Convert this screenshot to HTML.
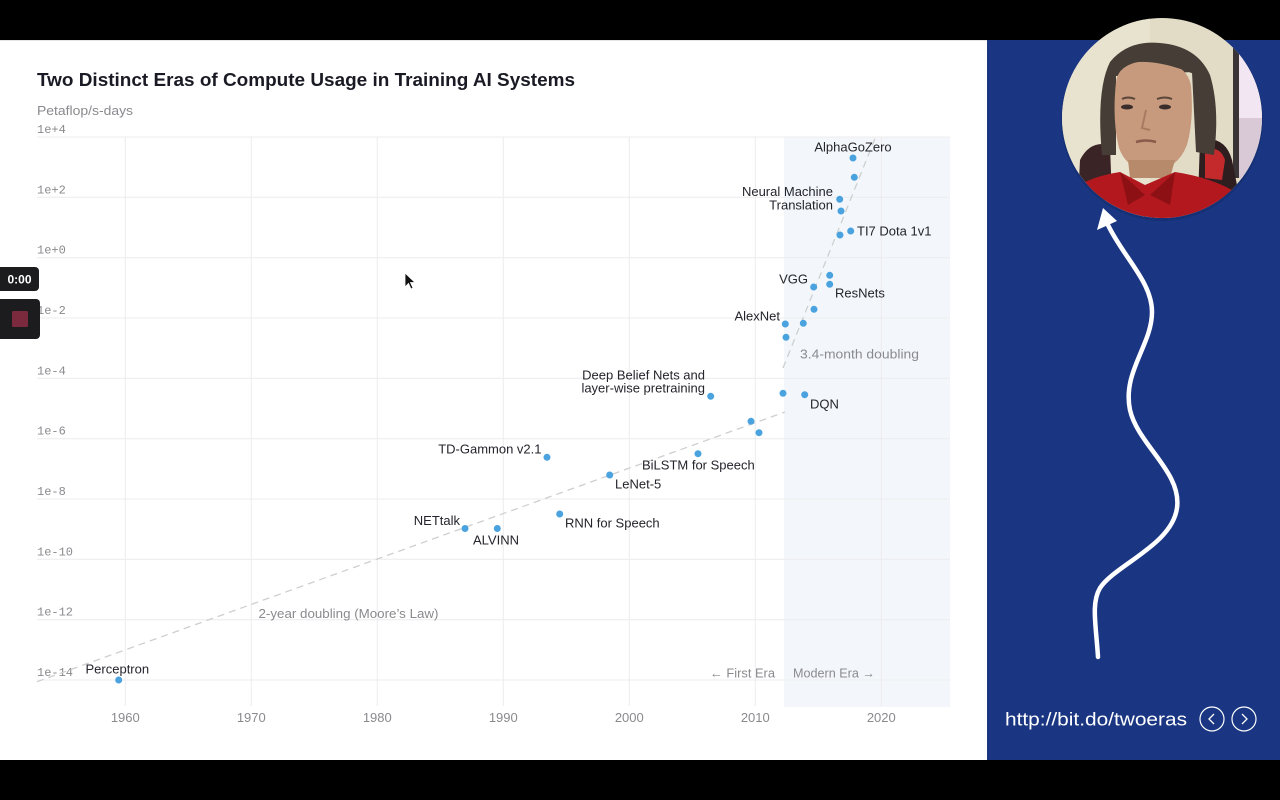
<!DOCTYPE html>
<html><head><meta charset="utf-8"><style>
html,body{margin:0;padding:0;background:#000;}
svg{display:block;}
text{font-family:"Liberation Sans",sans-serif;}
.lbl{font-size:13px;fill:#24242c;}
.gry{font-size:13px;fill:#8a8a8e;}
.yt{font-family:"Liberation Mono",monospace;font-size:12px;fill:#8a8a8e;}
</style></head><body>
<svg width="1280" height="800" viewBox="0 0 1280 800" xmlns="http://www.w3.org/2000/svg">
<defs>
<clipPath id="cc"><circle cx="1162" cy="118" r="100"/></clipPath>
</defs>
<rect x="0" y="0" width="1280" height="800" fill="#000"/>
<rect x="0" y="40" width="987" height="720" fill="#fff"/>
<rect x="0" y="40" width="987" height="1" fill="#e4e4e4"/>
<rect x="987" y="40" width="293" height="720" fill="#1a3682"/>

<!-- modern era shading -->
<rect x="784" y="137" width="166" height="570" fill="#f3f7fb"/>

<!-- grid -->
<g stroke="#ececee" stroke-width="1">
<line x1="37" y1="137" x2="950" y2="137"/>
<line x1="37" y1="197.3" x2="950" y2="197.3"/>
<line x1="37" y1="257.7" x2="950" y2="257.7"/>
<line x1="37" y1="318" x2="950" y2="318"/>
<line x1="37" y1="378.3" x2="950" y2="378.3"/>
<line x1="37" y1="438.7" x2="950" y2="438.7"/>
<line x1="37" y1="499" x2="950" y2="499"/>
<line x1="37" y1="559.3" x2="950" y2="559.3"/>
<line x1="37" y1="619.7" x2="950" y2="619.7"/>
<line x1="37" y1="680" x2="950" y2="680"/>
<line x1="125.3" y1="137" x2="125.3" y2="706"/>
<line x1="251.3" y1="137" x2="251.3" y2="706"/>
<line x1="377.3" y1="137" x2="377.3" y2="706"/>
<line x1="503.3" y1="137" x2="503.3" y2="706"/>
<line x1="629.3" y1="137" x2="629.3" y2="706"/>
<line x1="755.3" y1="137" x2="755.3" y2="706"/>
<line x1="881.3" y1="137" x2="881.3" y2="706"/>
</g>

<!-- title -->
<text x="37" y="86" font-size="18" font-weight="bold" fill="#1a1a24" textLength="538" lengthAdjust="spacingAndGlyphs">Two Distinct Eras of Compute Usage in Training AI Systems</text>
<text x="37" y="115" class="gry" textLength="96" lengthAdjust="spacingAndGlyphs">Petaflop/s-days</text>

<!-- y ticks -->
<text x="37" y="133" class="yt">1e+4</text>
<text x="37" y="193.3" class="yt">1e+2</text>
<text x="37" y="253.7" class="yt">1e+0</text>
<text x="37" y="314" class="yt">1e-2</text>
<text x="37" y="374.3" class="yt">1e-4</text>
<text x="37" y="434.7" class="yt">1e-6</text>
<text x="37" y="495" class="yt">1e-8</text>
<text x="37" y="555.3" class="yt">1e-10</text>
<text x="37" y="615.7" class="yt">1e-12</text>
<text x="37" y="676" class="yt">1e-14</text>

<!-- x ticks -->
<text x="125.3" y="722" class="gry" text-anchor="middle">1960</text>
<text x="251.3" y="722" class="gry" text-anchor="middle">1970</text>
<text x="377.3" y="722" class="gry" text-anchor="middle">1980</text>
<text x="503.3" y="722" class="gry" text-anchor="middle">1990</text>
<text x="629.3" y="722" class="gry" text-anchor="middle">2000</text>
<text x="755.3" y="722" class="gry" text-anchor="middle">2010</text>
<text x="881.3" y="722" class="gry" text-anchor="middle">2020</text>

<!-- trend lines -->
<line x1="37" y1="681.7" x2="785" y2="412" stroke="#cfcfcf" stroke-width="1.3" stroke-dasharray="7 5"/>
<line x1="783" y1="368" x2="876" y2="136" stroke="#cfcfcf" stroke-width="1.3" stroke-dasharray="7 5"/>

<!-- annotations -->
<text x="258.5" y="618" class="gry" textLength="180" lengthAdjust="spacingAndGlyphs">2-year doubling (Moore’s Law)</text>
<text x="800" y="358.5" class="gry" textLength="119" lengthAdjust="spacingAndGlyphs">3.4-month doubling</text>
<text x="710" y="677.5" class="gry" textLength="65" lengthAdjust="spacingAndGlyphs">← First Era</text>
<text x="793" y="677.5" class="gry" textLength="82" lengthAdjust="spacingAndGlyphs">Modern Era →</text>

<!-- labels -->
<text x="853" y="151.5" class="lbl" text-anchor="middle">AlphaGoZero</text>
<text x="833" y="196" class="lbl" text-anchor="end">Neural Machine</text>
<text x="833" y="209.5" class="lbl" text-anchor="end">Translation</text>
<text x="857" y="235.5" class="lbl">TI7 Dota 1v1</text>
<text x="808" y="283.5" class="lbl" text-anchor="end">VGG</text>
<text x="835" y="297.5" class="lbl">ResNets</text>
<text x="780" y="320.5" class="lbl" text-anchor="end">AlexNet</text>
<text x="705" y="379.5" class="lbl" text-anchor="end">Deep Belief Nets and</text>
<text x="705" y="392.5" class="lbl" text-anchor="end">layer-wise pretraining</text>
<text x="810" y="408.5" class="lbl">DQN</text>
<text x="541.5" y="453.5" class="lbl" text-anchor="end">TD-Gammon v2.1</text>
<text x="642" y="469.5" class="lbl">BiLSTM for Speech</text>
<text x="615" y="488.5" class="lbl">LeNet-5</text>
<text x="460" y="525" class="lbl" text-anchor="end">NETtalk</text>
<text x="473" y="544.5" class="lbl">ALVINN</text>
<text x="565" y="527.5" class="lbl">RNN for Speech</text>
<text x="85.5" y="673.5" class="lbl">Perceptron</text>

<!-- points -->
<g fill="#4aa3de">
<circle cx="118.7" cy="680" r="3.5"/>
<circle cx="465" cy="528.5" r="3.5"/>
<circle cx="497.3" cy="528.5" r="3.5"/>
<circle cx="559.7" cy="514" r="3.5"/>
<circle cx="547" cy="457.3" r="3.5"/>
<circle cx="609.7" cy="475" r="3.5"/>
<circle cx="698" cy="453.7" r="3.5"/>
<circle cx="710.7" cy="396.3" r="3.5"/>
<circle cx="751" cy="421.3" r="3.5"/>
<circle cx="759" cy="432.7" r="3.5"/>
<circle cx="783" cy="393.3" r="3.5"/>
<circle cx="804.7" cy="394.7" r="3.5"/>
<circle cx="785.3" cy="324" r="3.5"/>
<circle cx="786" cy="337.3" r="3.5"/>
<circle cx="803.3" cy="323.3" r="3.5"/>
<circle cx="814" cy="309.3" r="3.5"/>
<circle cx="813.7" cy="287" r="3.5"/>
<circle cx="829.7" cy="275.3" r="3.5"/>
<circle cx="829.7" cy="284.3" r="3.5"/>
<circle cx="840" cy="235" r="3.5"/>
<circle cx="850.7" cy="231" r="3.5"/>
<circle cx="839.7" cy="199.3" r="3.5"/>
<circle cx="841" cy="211" r="3.5"/>
<circle cx="854.3" cy="177.3" r="3.5"/>
<circle cx="853" cy="158" r="3.5"/>
</g>

<!-- mouse cursor -->
<path d="M405,273 L405,287 L408.5,283.5 L411,289 L413,288 L410.5,282.5 L415,282.5 Z" fill="#111" stroke="#fff" stroke-width="0.8"/>

<!-- recorder overlay -->
<rect x="-6" y="267" width="45" height="24" rx="4" fill="#1c1c1e"/>
<text x="19.5" y="283.5" font-size="12" font-weight="bold" fill="#fff" text-anchor="middle">0:00</text>
<rect x="-6" y="299" width="46" height="40" rx="4" fill="#1c1c1e"/>
<rect x="12" y="311" width="16" height="16" rx="1.5" fill="#7a2a3c"/>

<!-- webcam circle -->
<circle cx="1162" cy="120" r="101" fill="#102a66" opacity="0.5"/>
<g clip-path="url(#cc)">
<rect x="1060" y="16" width="206" height="206" fill="#e2dcc6"/>
<rect x="1060" y="16" width="90" height="206" fill="#e8e3cf"/>
<rect x="1233" y="48" width="6" height="130" fill="#3a3436"/>
<rect x="1239" y="50" width="26" height="70" fill="#f1e6f1"/>
<rect x="1239" y="118" width="26" height="60" fill="#d9c9d6"/>
<!-- chair -->
<path d="M1080,160 Q1090,140 1110,145 L1112,200 L1078,200 Z" fill="#3a2426"/>
<path d="M1200,140 Q1225,135 1232,160 L1240,200 L1198,200 Z" fill="#2e1e20"/>
<path d="M1205,150 Q1220,145 1225,160 L1222,180 L1205,178 Z" fill="#c42a2c"/>
<!-- hair -->
<path d="M1102,155 Q1096,90 1110,62 Q1128,40 1160,43 Q1197,46 1210,75 Q1220,108 1214,155 L1196,152 L1192,72 L1116,76 L1116,155 Z" fill="#463e36"/>
<!-- face -->
<path d="M1116,82 Q1118,62 1152,60 Q1187,62 1191,86 Q1194,120 1187,145 Q1177,170 1152,172 Q1127,170 1119,148 Q1112,120 1116,82 Z" fill="#c79a7e"/>
<path d="M1114,70 Q1140,52 1194,74 L1194,60 Q1160,40 1114,60 Z" fill="#463e36"/>
<!-- eyes, nose, mouth -->
<ellipse cx="1127" cy="107" rx="6" ry="2.5" fill="#3a2e2c"/>
<ellipse cx="1165" cy="107" rx="6" ry="2.5" fill="#3a2e2c"/>
<path d="M1122,99 Q1128,96 1135,99" stroke="#5a4638" stroke-width="2" fill="none"/>
<path d="M1157,99 Q1165,96 1172,99" stroke="#5a4638" stroke-width="2" fill="none"/>
<path d="M1146,110 L1142,128 L1150,130" stroke="#a87a60" stroke-width="2" fill="none"/>
<path d="M1136,142 Q1146,139 1156,142" stroke="#8a5a4a" stroke-width="2.5" fill="none"/>
<!-- neck & shirt -->
<path d="M1128,160 L1130,178 L1170,178 L1175,160 Z" fill="#b88a6c"/>
<path d="M1060,222 L1060,200 Q1080,178 1120,172 L1145,185 L1175,172 Q1215,178 1240,195 L1266,222 Z" fill="#b3181e"/>
<path d="M1120,172 L1145,195 L1128,205 Z" fill="#8c1014"/>
<path d="M1175,172 L1150,195 L1170,205 Z" fill="#8c1014"/>
</g>

<!-- white arrow -->
<path d="M1098,657 C1096,625 1091,603 1100,588 C1115,565 1172,545 1177,508 C1182,472 1138,445 1130,410 C1122,372 1152,345 1152,312 C1152,282 1124,258 1108,225" stroke="#fff" stroke-width="4.5" fill="none" stroke-linecap="round"/>
<path d="M1103,208 L1097,230 L1106,226 L1117,221 Z" fill="#fff"/>

<!-- link & nav -->
<text x="1005" y="725.5" font-size="18" fill="#fff" textLength="182" lengthAdjust="spacingAndGlyphs">http://bit.do/twoeras</text>
<circle cx="1212" cy="719" r="12" fill="none" stroke="#fff" stroke-width="1.2"/>
<path d="M1214,714 L1209,719 L1214,724" stroke="#fff" stroke-width="1.3" fill="none"/>
<circle cx="1244" cy="719" r="12" fill="none" stroke="#fff" stroke-width="1.2"/>
<path d="M1242,714 L1247,719 L1242,724" stroke="#fff" stroke-width="1.3" fill="none"/>
</svg>
</body></html>
